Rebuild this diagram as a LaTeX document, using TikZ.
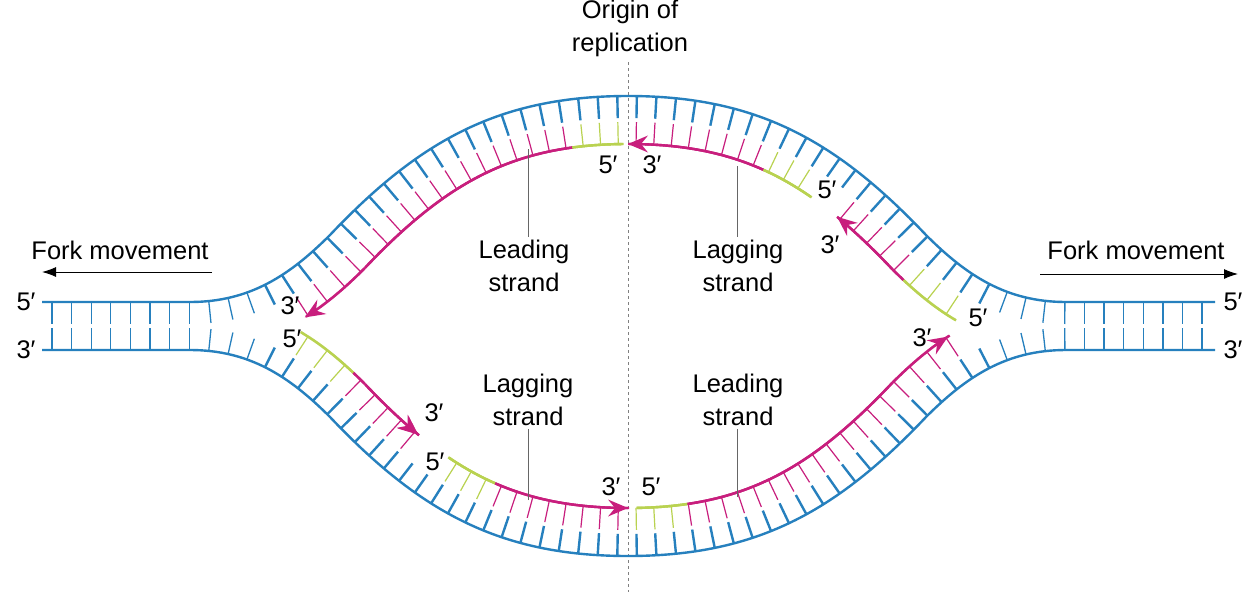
\documentclass[tikz,border=0pt]{standalone}
\usepackage{fontspec}
\setmainfont{Liberation Sans}
\usetikzlibrary{decorations.markings,arrows.meta}
\definecolor{dnablue}{RGB}{38,128,190}
\definecolor{mag}{RGB}{200,30,125}
\definecolor{grn}{RGB}{185,210,80}
\def\nonecol{none}
\def\rng#1/#2/#3;{\ifdim\mx>#1pt\relax\ifdim\mx<#2pt\relax\def\curcol{#3}\fi\fi}
\def\tiptest#1;{\ifdim\mx>\dimexpr#1pt-0.55pt\relax\ifdim\mx<\dimexpr#1pt+0.55pt\relax\fill[mag] (0pt,\inn) -- ({\tdir*-20pt},{\inn+8.5pt}) -- ({\tdir*-13pt},\inn) -- ({\tdir*-20pt},{\inn-8.5pt}) -- cycle;\fi\fi}
\def\tickcode{%
  \pgfpointtransformed{\pgfpointorigin}\pgfgetlastxy{\ox}{\oy}%
  \ifdim\ox<255pt\relax\draw[dnablue,line width=1.3pt] (0pt,0pt) -- (0pt,\half);%
  \else\ifdim\ox>1001pt\relax\draw[dnablue,line width=1.3pt] (0pt,0pt) -- (0pt,\half);%
  \else
    \draw[dnablue,line width=2.4pt] (0pt,0pt) -- (0pt,\half);%
    \pgfpointtransformed{\pgfqpoint{0pt}{\inn}}\pgfgetlastxy{\mx}{\my}%
    \def\curcol{none}\ranges
    \ifx\curcol\nonecol\else\draw[\curcol,line width=1.2pt] (0pt,\cst) -- (0pt,\inn);\fi
  \fi\fi}
\def\innercode{%
  \pgfpointtransformed{\pgfqpoint{0pt}{\inn}}\pgfgetlastxy{\mx}{\my}%
  \def\curcol{none}\ranges
  \ifx\curcol\nonecol\else\draw[\curcol,line width=2.4pt] (0pt,\inn) -- (2pt,\inn);\fi
  \tips}
\tikzset{
  strand/.style={dnablue,line width=2.4pt,
    postaction={decorate,decoration={markings,mark=between positions 10pt and -5pt step 19.6pt with {\tickcode}}},
    postaction={decorate,decoration={markings,mark=between positions 0pt and -1pt step 1pt with {\innercode}}}},
  lbl/.style={font=\fontsize{25.5}{33}\selectfont,inner sep=0pt,align=center},
  guide/.style={gray!80!black,line width=0.9pt},
  fork/.style={line width=1pt,-{Latex[length=14pt,width=10pt]}}
}
\begin{document}
\begin{tikzpicture}[x=1pt,y=-1pt]
\useasboundingbox[fill=white] (0,0) rectangle (1256,592);
\draw[gray,dashed,line width=0.9pt] (628,62) -- (628,592);
% top strand
\def\inn{-48pt}\def\half{-22pt}\def\cst{-26pt}\def\tdir{-1}
\def\ranges{\rng 305/572/mag;\rng 572/622/grn;\rng 628/763/mag;\rng 763/810/grn;\rng 837/903/mag;\rng 903/955/grn;}
\def\tips{\tiptest 305;\tiptest 628;\tiptest 837;}
\draw[strand] (42,302) -- (190,302) .. controls (250,302) and (290,275) .. (330,235)
  .. controls (420,140) and (500,96) .. (628,96) .. controls (756,96) and (836,140) .. (926,235)
  .. controls (966,275) and (1006,302) .. (1066,302) -- (1215,302);
% bottom strand
\def\inn{48pt}\def\half{22pt}\def\cst{26pt}\def\tdir{1}
\def\ranges{\rng 300/353/grn;\rng 353/418/mag;\rng 448/495/grn;\rng 495/628/mag;\rng 636/687/grn;\rng 687/948/mag;}
\def\tips{\tiptest 418;\tiptest 628;\tiptest 948;}
\draw[strand] (42,350) -- (190,350) .. controls (250,350) and (290,377) .. (330,417)
  .. controls (420,512) and (500,556) .. (628,556) .. controls (756,556) and (836,512) .. (926,417)
  .. controls (966,377) and (1006,350) .. (1066,350) -- (1215,350);
% labels
\node[lbl] (orig) at (630,28) {Origin of\\replication};
\node[lbl] (fl) at (120,250) {Fork movement};
\node[lbl] (fr) at (1136,250) {Fork movement};
\coordinate (fla) at (212,272); \coordinate (flb) at (42,272);
\coordinate (fra) at (1040,274); \coordinate (frb) at (1238,274);
\draw[fork] (fla) -- (flb);
\draw[fork] (fra) -- (frb);
\node[lbl] (l5) at (26,302) {5′};
\node[lbl] (l3) at (26,350) {3′};
\node[lbl] (r5) at (1233,302) {5′};
\node[lbl] (r3) at (1233,350) {3′};
\node[lbl] (a1) at (290,306) {3′};
\node[lbl] (a2) at (292,339) {5′};
\node[lbl] (a3) at (434,413) {3′};
\node[lbl] (a4) at (435,462) {5′};
\node[lbl] (a5) at (611,487) {3′};
\node[lbl] (a6) at (651,487) {5′};
\node[lbl] (a7) at (608,165) {5′};
\node[lbl] (a8) at (652,165) {3′};
\node[lbl] (a9) at (827,190) {5′};
\node[lbl] (a10) at (830,245) {3′};
\node[lbl] (a11) at (978,318) {5′};
\node[lbl] (a12) at (922,338) {3′};
\node[lbl] (t1) at (524,266) {Leading\\strand};
\node[lbl] (t2) at (738,266) {Lagging\\strand};
\node[lbl] (t3) at (528,400) {Lagging\\strand};
\node[lbl] (t4) at (738,400) {Leading\\strand};
\coordinate (g1) at (528,149); \coordinate (g2) at (737,166);
\coordinate (g3) at (528,500); \coordinate (g4) at (737,497);
\draw[guide] (g1) -- ([yshift=3pt]g1 |- t1.north);
\draw[guide] (g2) -- ([yshift=3pt]g2 |- t2.north);
\draw[guide] (g3) -- ([yshift=-3pt]g3 |- t3.south);
\draw[guide] (g4) -- ([yshift=-3pt]g4 |- t4.south);
\end{tikzpicture}
\end{document}
